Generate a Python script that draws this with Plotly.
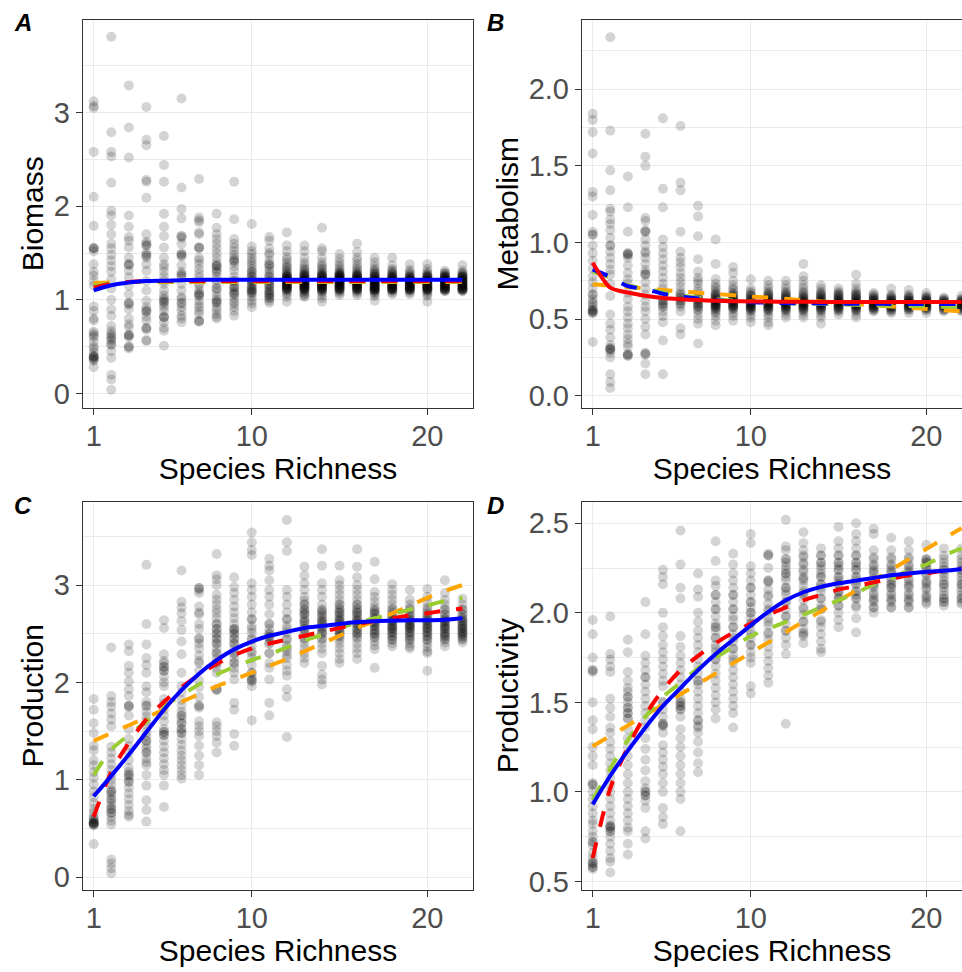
import plotly.graph_objects as go

# ---------------- data ----------------
RICHNESS = [1, 2, 3, 4, 5, 6, 7, 8, 9, 10, 11, 12, 13, 14, 15, 16, 17, 18, 19, 20, 21, 22]

BIOMASS = [
    [3.12, 3.07, 3.05, 2.58, 2.10, 1.79, 1.55, 1.55, 1.52, 1.38, 1.30, 1.26, 1.20, 1.15, 0.93, 0.88, 0.80, 0.78, 0.66, 0.64, 0.60, 0.55, 0.50, 0.48, 0.44, 0.40, 0.39, 0.38, 0.36, 0.35, 0.28],
    [3.81, 2.79, 2.58, 2.53, 2.25, 1.95, 1.90, 1.80, 1.70, 1.60, 1.55, 1.48, 1.42, 1.36, 1.30, 1.22, 1.12, 1.00, 0.90, 0.83, 0.72, 0.67, 0.64, 0.60, 0.56, 0.52, 0.45, 0.38, 0.20, 0.15, 0.04],
    [3.29, 2.84, 2.52, 1.90, 1.78, 1.67, 1.63, 1.56, 1.45, 1.38, 1.37, 1.31, 1.24, 1.15, 1.06, 0.97, 0.95, 0.90, 0.80, 0.74, 0.71, 0.63, 0.62, 0.60, 0.50, 0.48],
    [3.06, 2.71, 2.65, 2.28, 2.26, 2.09, 1.70, 1.62, 1.60, 1.58, 1.50, 1.47, 1.45, 1.38, 1.31, 1.20, 1.10, 0.99, 0.92, 0.89, 0.87, 0.82, 0.78, 0.70, 0.68, 0.57, 0.56],
    [2.75, 2.44, 2.26, 1.92, 1.78, 1.68, 1.56, 1.45, 1.38, 1.35, 1.30, 1.25, 1.20, 1.17, 1.10, 1.05, 1.02, 0.98, 0.95, 0.92, 0.88, 0.82, 0.81, 0.76, 0.70, 0.67, 0.51],
    [3.15, 2.20, 1.97, 1.87, 1.68, 1.66, 1.60, 1.50, 1.48, 1.46, 1.37, 1.30, 1.27, 1.25, 1.17, 1.10, 1.03, 1.01, 0.97, 0.92, 0.88, 0.83, 0.80, 0.76],
    [2.29, 1.88, 1.85, 1.83, 1.72, 1.70, 1.56, 1.55, 1.45, 1.42, 1.38, 1.33, 1.28, 1.24, 1.17, 1.10, 1.07, 1.06, 1.04, 0.99, 0.95, 0.92, 0.88, 0.85, 0.78, 0.77],
    [1.92, 1.77, 1.70, 1.65, 1.60, 1.55, 1.50, 1.45, 1.40, 1.37, 1.36, 1.33, 1.30, 1.25, 1.21, 1.17, 1.12, 1.08, 1.03, 1.00, 0.98, 0.96, 0.92, 0.89, 0.85, 0.82, 0.80],
    [2.26, 1.86, 1.65, 1.60, 1.56, 1.52, 1.48, 1.45, 1.42, 1.40, 1.36, 1.31, 1.25, 1.20, 1.15, 1.13, 1.10, 1.08, 1.06, 1.02, 0.98, 0.96, 0.92, 0.88, 0.83],
    [1.81, 1.57, 1.52, 1.49, 1.45, 1.42, 1.39, 1.36, 1.33, 1.30, 1.27, 1.25, 1.22, 1.20, 1.18, 1.15, 1.12, 1.10, 1.08, 1.06, 1.03, 0.99, 0.96, 0.92],
    [1.67, 1.63, 1.55, 1.50, 1.48, 1.42, 1.38, 1.36, 1.33, 1.30, 1.27, 1.24, 1.20, 1.17, 1.15, 1.13, 1.10, 1.08, 1.06, 1.04, 1.02, 0.99, 0.97],
    [1.72, 1.58, 1.52, 1.46, 1.43, 1.40, 1.37, 1.35, 1.34, 1.31, 1.30, 1.28, 1.27, 1.25, 1.25, 1.23, 1.22, 1.20, 1.20, 1.18, 1.17, 1.15, 1.15, 1.13, 1.12, 1.11, 1.10, 1.08, 1.06, 1.03, 0.98],
    [1.58, 1.52, 1.45, 1.40, 1.37, 1.34, 1.32, 1.31, 1.29, 1.28, 1.26, 1.25, 1.23, 1.22, 1.21, 1.20, 1.19, 1.18, 1.17, 1.16, 1.15, 1.14, 1.13, 1.12, 1.11, 1.09, 1.07, 1.06, 1.04, 1.03],
    [1.77, 1.55, 1.52, 1.45, 1.40, 1.37, 1.35, 1.33, 1.31, 1.29, 1.28, 1.26, 1.25, 1.24, 1.22, 1.21, 1.20, 1.19, 1.18, 1.17, 1.16, 1.15, 1.14, 1.13, 1.12, 1.11, 1.09, 1.08, 1.05, 1.02, 0.98],
    [1.49, 1.44, 1.40, 1.37, 1.34, 1.32, 1.30, 1.29, 1.28, 1.27, 1.26, 1.25, 1.24, 1.23, 1.22, 1.21, 1.20, 1.19, 1.18, 1.17, 1.16, 1.15, 1.14, 1.13, 1.12, 1.11, 1.09, 1.07, 1.05],
    [1.60, 1.51, 1.45, 1.42, 1.38, 1.35, 1.33, 1.31, 1.29, 1.28, 1.26, 1.25, 1.24, 1.23, 1.22, 1.21, 1.20, 1.19, 1.18, 1.17, 1.16, 1.15, 1.14, 1.13, 1.12, 1.11, 1.09, 1.07, 1.05],
    [1.45, 1.40, 1.36, 1.33, 1.31, 1.30, 1.28, 1.27, 1.25, 1.24, 1.22, 1.21, 1.20, 1.19, 1.18, 1.17, 1.16, 1.15, 1.14, 1.13, 1.12, 1.11, 1.10, 1.09, 1.08, 1.06, 1.04, 0.99],
    [1.45, 1.37, 1.33, 1.31, 1.30, 1.28, 1.27, 1.25, 1.24, 1.23, 1.22, 1.21, 1.20, 1.19, 1.18, 1.17, 1.16, 1.15, 1.14, 1.13, 1.12, 1.11, 1.10, 1.08, 1.06],
    [1.38, 1.32, 1.30, 1.28, 1.27, 1.25, 1.24, 1.23, 1.22, 1.21, 1.20, 1.19, 1.18, 1.17, 1.16, 1.15, 1.14, 1.13, 1.12, 1.11, 1.10, 1.08, 1.06],
    [1.38, 1.33, 1.30, 1.28, 1.26, 1.25, 1.24, 1.22, 1.21, 1.20, 1.19, 1.18, 1.17, 1.16, 1.15, 1.14, 1.13, 1.12, 1.11, 1.10, 1.08, 1.06, 1.04, 0.98],
    [1.31, 1.29, 1.28, 1.26, 1.25, 1.24, 1.23, 1.22, 1.21, 1.20, 1.19, 1.18, 1.17, 1.16, 1.15, 1.14, 1.13, 1.12, 1.11, 1.10, 1.09],
    [1.37, 1.31, 1.29, 1.28, 1.26, 1.25, 1.24, 1.23, 1.22, 1.21, 1.20, 1.19, 1.18, 1.17, 1.16, 1.15, 1.14, 1.13, 1.12, 1.11, 1.10, 1.09],
]
# extra replicates where the point clouds are densest (dark cores)
BIOMASS_CORE = [
    [0.40, 0.38, 0.62, 1.55], [0.62, 0.58, 0.52], [0.62, 0.50, 0.96, 1.38], [0.70, 0.88, 1.48, 1.58], [0.82, 0.98, 1.00],
    [1.68, 1.48, 1.27, 0.96], [1.56, 1.05, 1.15, 0.77], [1.36, 1.30, 1.12, 0.98], [1.42, 1.13, 1.06, 1.20],
    [1.30, 1.25, 1.20, 1.15, 1.12, 1.10, 1.08], [1.38, 1.20, 1.15, 1.10, 1.06, 1.02, 1.25],
    [1.26, 1.24, 1.22, 1.21, 1.19, 1.17, 1.16, 1.14, 1.12, 1.11, 1.25, 1.22, 1.20, 1.18, 1.15, 1.13],
    [1.27, 1.25, 1.23, 1.21, 1.20, 1.18, 1.17, 1.15, 1.14, 1.12, 1.11, 1.10, 1.26, 1.22, 1.19, 1.16, 1.13],
    [1.27, 1.25, 1.23, 1.21, 1.20, 1.18, 1.17, 1.15, 1.14, 1.12, 1.11, 1.10, 1.26, 1.22, 1.19, 1.16, 1.13],
    [1.27, 1.25, 1.23, 1.21, 1.20, 1.18, 1.17, 1.15, 1.14, 1.12, 1.11, 1.10, 1.26, 1.22, 1.19, 1.16, 1.13, 1.24],
    [1.27, 1.25, 1.23, 1.21, 1.20, 1.18, 1.17, 1.15, 1.14, 1.12, 1.11, 1.10, 1.26, 1.22, 1.19, 1.16, 1.13],
    [1.27, 1.25, 1.23, 1.21, 1.20, 1.18, 1.17, 1.15, 1.14, 1.12, 1.11, 1.10, 1.24, 1.20, 1.17, 1.14, 1.12],
    [1.27, 1.25, 1.23, 1.21, 1.20, 1.18, 1.17, 1.15, 1.14, 1.12, 1.11, 1.10, 1.24, 1.20, 1.17, 1.14, 1.12],
    [1.25, 1.23, 1.21, 1.20, 1.18, 1.17, 1.15, 1.14, 1.12, 1.11, 1.10, 1.22, 1.19, 1.16, 1.13, 1.12],
    [1.27, 1.25, 1.23, 1.21, 1.20, 1.18, 1.17, 1.15, 1.14, 1.12, 1.11, 1.10, 1.24, 1.20, 1.17, 1.14, 1.12],
    [1.27, 1.25, 1.23, 1.21, 1.20, 1.18, 1.17, 1.15, 1.14, 1.12, 1.11, 1.10, 1.24, 1.20, 1.17, 1.14, 1.12],
    [1.27, 1.25, 1.23, 1.21, 1.20, 1.18, 1.17, 1.15, 1.14, 1.12, 1.11, 1.10, 1.24, 1.20, 1.17, 1.14, 1.12],
]

METABOLISM = [
    [1.84, 1.80, 1.72, 1.58, 1.33, 1.30, 1.18, 1.07, 1.05, 0.98, 0.93, 0.88, 0.83, 0.78, 0.74, 0.70, 0.66, 0.63, 0.61, 0.58, 0.56, 0.55, 0.54, 0.35],
    [2.34, 1.73, 1.47, 1.34, 1.22, 1.20, 1.15, 1.12, 1.08, 1.03, 0.98, 0.94, 0.90, 0.86, 0.82, 0.79, 0.73, 0.65, 0.53, 0.47, 0.43, 0.38, 0.33, 0.31, 0.30, 0.28, 0.25, 0.14, 0.09, 0.05],
    [1.43, 1.23, 1.07, 0.93, 0.92, 0.90, 0.85, 0.80, 0.76, 0.73, 0.67, 0.63, 0.58, 0.55, 0.51, 0.47, 0.44, 0.40, 0.37, 0.34, 0.32, 0.27, 0.26],
    [1.71, 1.56, 1.50, 1.16, 1.14, 1.08, 1.07, 1.02, 0.98, 0.94, 0.90, 0.86, 0.82, 0.80, 0.79, 0.74, 0.70, 0.66, 0.62, 0.58, 0.55, 0.50, 0.45, 0.40, 0.28, 0.27, 0.21, 0.14],
    [1.81, 1.35, 1.23, 1.02, 0.97, 0.93, 0.89, 0.85, 0.81, 0.77, 0.73, 0.70, 0.67, 0.64, 0.62, 0.60, 0.58, 0.55, 0.52, 0.48, 0.36, 0.14],
    [1.76, 1.39, 1.34, 1.07, 0.94, 0.90, 0.87, 0.84, 0.80, 0.77, 0.74, 0.71, 0.68, 0.66, 0.64, 0.62, 0.60, 0.58, 0.55, 0.44, 0.40],
    [1.24, 1.17, 1.04, 0.89, 0.81, 0.77, 0.75, 0.73, 0.70, 0.68, 0.66, 0.64, 0.63, 0.62, 0.60, 0.59, 0.58, 0.56, 0.53, 0.50, 0.47, 0.34],
    [1.02, 0.86, 0.76, 0.73, 0.71, 0.70, 0.68, 0.67, 0.66, 0.65, 0.64, 0.63, 0.62, 0.61, 0.60, 0.59, 0.58, 0.57, 0.56, 0.55, 0.54, 0.52, 0.49, 0.46],
    [0.84, 0.80, 0.75, 0.72, 0.70, 0.69, 0.67, 0.66, 0.65, 0.64, 0.63, 0.62, 0.61, 0.60, 0.59, 0.58, 0.57, 0.56, 0.54, 0.52, 0.49],
    [0.76, 0.70, 0.68, 0.67, 0.66, 0.65, 0.64, 0.63, 0.62, 0.61, 0.60, 0.59, 0.58, 0.57, 0.56, 0.55, 0.53, 0.51, 0.48],
    [0.75, 0.72, 0.70, 0.68, 0.67, 0.66, 0.65, 0.64, 0.63, 0.62, 0.61, 0.60, 0.59, 0.58, 0.57, 0.56, 0.55, 0.53, 0.51, 0.48, 0.46],
    [0.75, 0.72, 0.70, 0.68, 0.67, 0.66, 0.65, 0.64, 0.63, 0.62, 0.61, 0.60, 0.59, 0.58, 0.57, 0.56, 0.55, 0.53, 0.51],
    [0.86, 0.78, 0.75, 0.72, 0.70, 0.68, 0.67, 0.65, 0.64, 0.63, 0.62, 0.61, 0.60, 0.59, 0.58, 0.57, 0.56, 0.55, 0.53, 0.51],
    [0.72, 0.70, 0.68, 0.67, 0.66, 0.65, 0.64, 0.63, 0.62, 0.61, 0.60, 0.59, 0.58, 0.57, 0.56, 0.55, 0.53, 0.51, 0.47],
    [0.70, 0.68, 0.67, 0.66, 0.65, 0.64, 0.63, 0.62, 0.61, 0.60, 0.59, 0.58, 0.57, 0.56, 0.55, 0.53],
    [0.79, 0.73, 0.70, 0.68, 0.67, 0.66, 0.65, 0.64, 0.63, 0.62, 0.61, 0.60, 0.59, 0.58, 0.57, 0.56, 0.55, 0.53, 0.51],
    [0.67, 0.66, 0.65, 0.64, 0.63, 0.62, 0.61, 0.60, 0.59, 0.58, 0.57, 0.56, 0.55],
    [0.70, 0.66, 0.65, 0.64, 0.63, 0.62, 0.61, 0.60, 0.59, 0.58, 0.57, 0.56, 0.55, 0.54],
    [0.69, 0.66, 0.65, 0.64, 0.63, 0.62, 0.61, 0.60, 0.59, 0.58, 0.57, 0.56, 0.54],
    [0.67, 0.65, 0.64, 0.63, 0.62, 0.61, 0.60, 0.59, 0.58, 0.57, 0.56, 0.54],
    [0.64, 0.63, 0.62, 0.61, 0.60, 0.59, 0.58, 0.57, 0.56, 0.55],
    [0.65, 0.63, 0.62, 0.61, 0.60, 0.59, 0.58, 0.57, 0.56, 0.55],
]
METABOLISM_CORE = [
    [0.55, 0.54, 0.56, 0.60, 0.66, 1.05], [0.30, 0.31, 0.98], [0.27, 0.26, 0.92, 0.93], [0.79, 1.07, 0.27, 0.93], [0.62, 0.60, 0.58],
    [0.66, 0.64, 0.62, 0.60], [0.62, 0.60, 0.58, 0.56, 0.64],
    [0.66, 0.64, 0.62, 0.60, 0.59, 0.58, 0.57, 0.63, 0.61, 0.59], [0.66, 0.64, 0.62, 0.60, 0.59, 0.58, 0.57, 0.63, 0.61, 0.59],
    [0.65, 0.63, 0.61, 0.60, 0.59, 0.58, 0.57, 0.56, 0.62, 0.60, 0.58], [0.66, 0.64, 0.62, 0.61, 0.60, 0.59, 0.58, 0.57, 0.56, 0.63, 0.61, 0.59],
    [0.66, 0.64, 0.62, 0.61, 0.60, 0.59, 0.58, 0.57, 0.56, 0.63, 0.61, 0.59], [0.66, 0.64, 0.62, 0.61, 0.60, 0.59, 0.58, 0.57, 0.56, 0.63, 0.61, 0.59],
    [0.66, 0.64, 0.62, 0.61, 0.60, 0.59, 0.58, 0.57, 0.56, 0.63, 0.61, 0.59], [0.66, 0.64, 0.62, 0.61, 0.60, 0.59, 0.58, 0.57, 0.56, 0.63, 0.61, 0.59],
    [0.66, 0.64, 0.62, 0.61, 0.60, 0.59, 0.58, 0.57, 0.56, 0.63, 0.61, 0.59], [0.64, 0.63, 0.62, 0.61, 0.60, 0.59, 0.58, 0.57, 0.56, 0.62, 0.60, 0.58],
    [0.64, 0.63, 0.62, 0.61, 0.60, 0.59, 0.58, 0.57, 0.56, 0.62, 0.60, 0.58], [0.64, 0.63, 0.62, 0.61, 0.60, 0.59, 0.58, 0.57, 0.56, 0.62, 0.60, 0.58],
    [0.64, 0.63, 0.62, 0.61, 0.60, 0.59, 0.58, 0.57, 0.56, 0.62, 0.60, 0.58], [0.63, 0.62, 0.61, 0.60, 0.59, 0.58, 0.57, 0.56, 0.61, 0.59],
    [0.63, 0.62, 0.61, 0.60, 0.59, 0.58, 0.57, 0.56, 0.61, 0.59],
]

PRODUCTION = [
    [1.83, 1.72, 1.58, 1.48, 1.35, 1.30, 1.20, 1.15, 1.08, 1.02, 0.95, 0.88, 0.82, 0.76, 0.70, 0.66, 0.62, 0.59, 0.57, 0.56, 0.55, 0.54, 0.53, 0.34],
    [2.36, 1.86, 1.80, 1.75, 1.68, 1.62, 1.55, 1.34, 1.28, 1.22, 1.16, 1.10, 1.05, 1.00, 0.95, 0.90, 0.87, 0.84, 0.80, 0.76, 0.73, 0.70, 0.66, 0.62, 0.58, 0.54, 0.18, 0.14, 0.09, 0.04],
    [2.39, 2.32, 2.17, 2.10, 2.01, 1.93, 1.86, 1.76, 1.75, 1.66, 1.52, 1.42, 1.35, 1.28, 1.20, 1.12, 1.08, 1.05, 1.02, 0.98, 0.92, 0.86, 0.80, 0.74, 0.68, 0.64, 0.62],
    [3.21, 2.60, 2.39, 2.25, 2.18, 2.10, 1.96, 1.90, 1.80, 1.76, 1.70, 1.65, 1.60, 1.56, 1.49, 1.45, 1.40, 1.36, 1.32, 1.28, 1.22, 1.18, 1.15, 1.05, 0.94, 0.79, 0.69, 0.57],
    [2.64, 2.56, 2.29, 2.22, 2.20, 2.16, 2.12, 2.06, 2.00, 1.96, 1.83, 1.78, 1.72, 1.66, 1.60, 1.52, 1.49, 1.46, 1.40, 1.34, 1.28, 1.22, 1.16, 1.10, 1.05, 0.94, 0.72],
    [3.15, 2.83, 2.77, 2.71, 2.63, 2.54, 2.42, 2.29, 2.10, 1.96, 1.90, 1.82, 1.76, 1.70, 1.66, 1.62, 1.58, 1.52, 1.48, 1.42, 1.36, 1.30, 1.25, 1.20, 1.15, 1.10, 1.05, 1.01],
    [2.97, 2.95, 2.92, 2.78, 2.72, 2.60, 2.55, 2.45, 2.40, 2.35, 2.28, 2.20, 2.12, 2.02, 1.95, 1.85, 1.76, 1.74, 1.60, 1.55, 1.50, 1.45, 1.35, 1.25, 1.15, 1.05],
    [3.32, 3.10, 3.06, 3.00, 2.90, 2.85, 2.80, 2.75, 2.71, 2.66, 2.60, 2.55, 2.50, 2.45, 2.40, 2.35, 2.30, 2.25, 2.20, 2.15, 2.10, 1.93, 1.92, 1.59, 1.55, 1.50, 1.45, 1.38, 1.28],
    [3.08, 2.98, 2.92, 2.85, 2.78, 2.72, 2.66, 2.60, 2.55, 2.54, 2.50, 2.45, 2.40, 2.35, 2.30, 2.25, 2.20, 2.15, 2.10, 2.03, 1.79, 1.72, 1.47, 1.35],
    [3.54, 3.44, 3.36, 3.31, 3.02, 2.95, 2.88, 2.80, 2.72, 2.65, 2.58, 2.51, 2.44, 2.38, 2.32, 2.25, 2.18, 2.10, 2.05, 2.03, 2.01, 1.96, 1.61],
    [3.27, 3.20, 3.15, 3.05, 2.95, 2.88, 2.80, 2.70, 2.60, 2.55, 2.50, 2.47, 2.45, 2.40, 2.30, 2.20, 2.15, 2.03, 1.79, 1.66],
    [3.67, 3.44, 3.35, 2.95, 2.88, 2.80, 2.72, 2.65, 2.58, 2.51, 2.44, 2.38, 2.32, 2.25, 2.18, 2.12, 2.07, 1.93, 1.85, 1.44],
    [3.19, 3.10, 3.02, 2.95, 2.88, 2.84, 2.80, 2.75, 2.70, 2.66, 2.61, 2.55, 2.50, 2.45, 2.40, 2.35, 2.30, 2.25, 2.20],
    [3.37, 3.20, 3.02, 2.95, 2.88, 2.80, 2.74, 2.68, 2.62, 2.56, 2.50, 2.45, 2.40, 2.35, 2.30, 2.17, 2.08, 2.03, 1.98],
    [3.20, 3.05, 3.00, 2.95, 2.90, 2.85, 2.80, 2.76, 2.72, 2.68, 2.64, 2.60, 2.56, 2.52, 2.48, 2.44, 2.40, 2.35, 2.30, 2.24, 2.20],
    [3.37, 3.19, 3.08, 3.00, 2.95, 2.90, 2.85, 2.80, 2.76, 2.72, 2.68, 2.64, 2.60, 2.55, 2.50, 2.45, 2.40, 2.35, 2.30, 2.24],
    [3.24, 3.06, 2.93, 2.88, 2.83, 2.78, 2.74, 2.70, 2.66, 2.62, 2.58, 2.54, 2.50, 2.46, 2.42, 2.38, 2.34, 2.15],
    [3.01, 2.95, 2.90, 2.85, 2.80, 2.76, 2.72, 2.68, 2.65, 2.62, 2.58, 2.55, 2.52, 2.48, 2.44, 2.40, 2.37],
    [2.95, 2.85, 2.80, 2.76, 2.72, 2.68, 2.64, 2.60, 2.58, 2.56, 2.52, 2.48, 2.44, 2.40, 2.37, 2.35],
    [2.96, 2.88, 2.82, 2.77, 2.72, 2.68, 2.64, 2.60, 2.56, 2.52, 2.48, 2.44, 2.40, 2.36, 2.32, 2.30, 2.12],
    [3.05, 2.92, 2.85, 2.80, 2.75, 2.70, 2.65, 2.62, 2.58, 2.55, 2.50, 2.48, 2.45, 2.41, 2.37],
    [2.86, 2.80, 2.75, 2.70, 2.66, 2.62, 2.58, 2.55, 2.52, 2.50, 2.48, 2.45, 2.41],
]
PRODUCTION_CORE = [
    [0.55, 0.54, 0.56, 0.60], [0.66, 0.70, 0.80, 0.88], [0.98, 1.05, 1.76], [1.28, 1.40, 1.76], [2.16, 2.12, 1.49, 1.46],
    [1.66, 1.58, 1.52, 1.48], [2.97, 2.70, 2.45, 2.22, 1.76],
    [2.60, 2.55, 2.50, 2.45, 2.40, 2.30, 2.20, 1.93], [2.55, 2.50, 2.45, 2.40, 2.30, 2.20],
    [2.65, 2.55, 2.45, 2.30, 2.10, 2.02], [2.60, 2.50, 2.47, 2.40, 2.30],
    [2.65, 2.55, 2.45, 2.35, 2.28], [2.80, 2.75, 2.70, 2.62, 2.55, 2.50, 2.45, 2.72, 2.64, 2.58],
    [2.75, 2.70, 2.66, 2.62, 2.58, 2.55, 2.50, 2.45, 2.72, 2.64, 2.60, 2.52],
    [2.80, 2.75, 2.70, 2.66, 2.62, 2.58, 2.55, 2.50, 2.47, 2.72, 2.64, 2.60, 2.52],
    [2.80, 2.75, 2.70, 2.66, 2.62, 2.58, 2.55, 2.50, 2.47, 2.72, 2.64, 2.60, 2.52],
    [2.75, 2.70, 2.66, 2.62, 2.58, 2.55, 2.50, 2.47, 2.72, 2.64, 2.60, 2.52],
    [2.75, 2.70, 2.66, 2.62, 2.58, 2.55, 2.50, 2.47, 2.44, 2.64, 2.60, 2.56, 2.52],
    [2.75, 2.70, 2.66, 2.62, 2.58, 2.55, 2.50, 2.47, 2.44, 2.64, 2.60, 2.56, 2.52],
    [2.75, 2.70, 2.66, 2.62, 2.58, 2.55, 2.50, 2.47, 2.44, 2.64, 2.60, 2.56, 2.52],
    [2.75, 2.70, 2.66, 2.62, 2.58, 2.55, 2.50, 2.47, 2.44, 2.64, 2.60, 2.56, 2.52],
    [2.75, 2.70, 2.66, 2.62, 2.58, 2.55, 2.50, 2.47, 2.44, 2.64, 2.60, 2.56, 2.52],
]

PRODUCTIVITY = [
    [1.96, 1.88, 1.75, 1.68, 1.67, 1.50, 1.40, 1.35, 1.25, 1.20, 1.15, 1.05, 1.04, 1.00, 0.96, 0.92, 0.88, 0.84, 0.82, 0.78, 0.75, 0.72, 0.70, 0.66, 0.63, 0.61, 0.60, 0.58, 0.57],
    [1.98, 1.77, 1.74, 1.70, 1.67, 1.52, 1.47, 1.42, 1.36, 1.33, 1.28, 1.24, 1.20, 1.16, 1.12, 1.08, 1.04, 1.00, 0.96, 0.92, 0.88, 0.84, 0.81, 0.80, 0.78, 0.75, 0.71, 0.67, 0.63, 0.61, 0.55],
    [1.85, 1.78, 1.67, 1.62, 1.58, 1.56, 1.53, 1.50, 1.47, 1.44, 1.41, 1.35, 1.30, 1.25, 1.20, 1.15, 1.10, 1.05, 1.00, 0.96, 0.92, 0.88, 0.84, 0.80, 0.78, 0.71, 0.65],
    [2.06, 1.88, 1.76, 1.72, 1.68, 1.64, 1.60, 1.56, 1.52, 1.48, 1.44, 1.40, 1.36, 1.30, 1.24, 1.18, 1.12, 1.06, 1.02, 1.00, 0.98, 0.95, 0.91, 0.78, 0.74],
    [2.24, 2.20, 2.16, 2.00, 1.92, 1.87, 1.82, 1.78, 1.74, 1.70, 1.66, 1.62, 1.59, 1.50, 1.46, 1.42, 1.38, 1.37, 1.33, 1.26, 1.22, 1.18, 1.14, 1.10, 1.05, 1.00, 0.91, 0.86, 0.82],
    [2.46, 2.27, 2.14, 2.08, 1.87, 1.81, 1.76, 1.72, 1.68, 1.64, 1.60, 1.56, 1.52, 1.50, 1.48, 1.46, 1.42, 1.35, 1.30, 1.25, 1.20, 1.15, 1.10, 1.05, 1.00, 0.96, 0.78],
    [2.22, 2.13, 2.09, 2.00, 1.95, 1.90, 1.86, 1.82, 1.78, 1.74, 1.70, 1.66, 1.62, 1.60, 1.56, 1.52, 1.48, 1.44, 1.40, 1.37, 1.33, 1.28, 1.22, 1.16, 1.11],
    [2.40, 2.29, 2.18, 2.15, 2.10, 2.06, 2.02, 1.98, 1.94, 1.92, 1.90, 1.86, 1.82, 1.78, 1.74, 1.70, 1.66, 1.62, 1.58, 1.54, 1.50, 1.46, 1.41],
    [2.33, 2.27, 2.22, 2.18, 2.14, 2.10, 2.06, 2.02, 1.98, 1.96, 1.92, 1.88, 1.84, 1.80, 1.76, 1.72, 1.68, 1.64, 1.60, 1.56, 1.52, 1.48, 1.44, 1.36],
    [2.44, 2.39, 2.26, 2.22, 2.18, 2.14, 2.10, 2.06, 2.03, 2.00, 1.97, 1.94, 1.90, 1.86, 1.82, 1.78, 1.75, 1.72, 1.59, 1.55],
    [2.33, 2.32, 2.25, 2.18, 2.17, 2.13, 2.09, 2.05, 2.01, 1.97, 1.93, 1.89, 1.85, 1.81, 1.77, 1.73, 1.69, 1.65, 1.61],
    [2.52, 2.37, 2.35, 2.30, 2.26, 2.24, 2.22, 2.18, 2.14, 2.10, 2.06, 2.02, 1.98, 1.94, 1.90, 1.86, 1.82, 1.77, 1.38],
    [2.45, 2.39, 2.35, 2.31, 2.27, 2.23, 2.19, 2.15, 2.11, 2.07, 2.03, 1.99, 1.95, 1.91, 1.89, 1.87, 1.83],
    [2.36, 2.32, 2.28, 2.24, 2.20, 2.16, 2.12, 2.08, 2.04, 2.02, 1.96, 1.92, 1.88, 1.84, 1.80, 1.78],
    [2.48, 2.40, 2.36, 2.32, 2.28, 2.24, 2.20, 2.16, 2.12, 2.08, 2.04, 2.00, 1.96, 1.92],
    [2.50, 2.44, 2.40, 2.36, 2.32, 2.28, 2.24, 2.20, 2.16, 2.12, 2.08, 2.03, 1.97, 1.89],
    [2.47, 2.44, 2.35, 2.31, 2.27, 2.23, 2.19, 2.15, 2.11, 2.07, 2.03, 2.00],
    [2.42, 2.35, 2.31, 2.27, 2.23, 2.19, 2.16, 2.14, 2.11, 2.07, 2.03],
    [2.40, 2.35, 2.31, 2.27, 2.23, 2.19, 2.15, 2.11, 2.07, 2.03],
    [2.38, 2.30, 2.29, 2.28, 2.25, 2.21, 2.17, 2.13, 2.09, 2.05],
    [2.36, 2.32, 2.28, 2.24, 2.20, 2.16, 2.12, 2.08, 2.06, 2.04],
    [2.36, 2.32, 2.28, 2.24, 2.20, 2.16, 2.12, 2.08, 2.05],
]
PRODUCTIVITY_CORE = [
    [1.68, 1.04, 0.60, 0.58, 0.72], [0.80, 0.78, 0.81], [1.47, 1.44, 1.41, 1.53], [1.00, 0.98, 1.64], [1.38, 1.37, 1.50],
    [1.50, 1.48, 1.46], [1.62, 1.40, 1.36],
    [2.10, 2.02, 1.92, 1.86, 1.80, 1.74], [2.10, 2.02, 1.92, 1.86, 1.80, 1.74],
    [2.14, 2.06, 2.00, 1.94, 1.88, 1.82], [2.32, 2.18, 2.10, 2.02, 1.95, 1.88],
    [2.30, 2.22, 2.14, 2.06, 1.98, 1.90, 2.28, 2.20, 2.12],
    [2.32, 2.24, 2.18, 2.10, 2.02, 1.95, 1.88, 2.28, 2.20, 2.12],
    [2.32, 2.26, 2.20, 2.14, 2.08, 2.02, 1.95, 2.28, 2.22, 2.16],
    [2.32, 2.28, 2.24, 2.20, 2.16, 2.12, 2.08, 2.04, 2.26, 2.18, 2.10],
    [2.32, 2.28, 2.24, 2.20, 2.16, 2.12, 2.08, 2.04, 2.26, 2.18, 2.10],
    [2.30, 2.26, 2.22, 2.18, 2.14, 2.10, 2.06, 2.03, 2.24, 2.16, 2.08],
    [2.30, 2.26, 2.22, 2.18, 2.14, 2.10, 2.06, 2.03, 2.24, 2.16, 2.08],
    [2.30, 2.26, 2.22, 2.18, 2.14, 2.10, 2.06, 2.03, 2.24, 2.16, 2.08],
    [2.30, 2.28, 2.26, 2.22, 2.18, 2.14, 2.10, 2.06, 2.24, 2.16, 2.08],
    [2.30, 2.26, 2.22, 2.18, 2.14, 2.10, 2.06, 2.24, 2.16, 2.08],
    [2.30, 2.26, 2.22, 2.18, 2.14, 2.10, 2.06, 2.24, 2.16, 2.08],
]

# fitted curves, one value per richness level
BIOMASS_RED = [1.13, 1.17, 1.19, 1.20, 1.20, 1.20, 1.20, 1.20, 1.20, 1.20, 1.20, 1.20, 1.20, 1.20, 1.20, 1.20, 1.20, 1.20, 1.20, 1.20, 1.20, 1.20]
BIOMASS_ORANGE = [1.18, 1.185, 1.19, 1.19, 1.19, 1.19, 1.19, 1.19, 1.19, 1.19, 1.19, 1.19, 1.19, 1.19, 1.19, 1.19, 1.19, 1.19, 1.19, 1.19, 1.19, 1.19]
BIOMASS_GREEN = [1.15, 1.175, 1.19, 1.195, 1.195, 1.195, 1.195, 1.195, 1.195, 1.195, 1.195, 1.195, 1.195, 1.195, 1.195, 1.195, 1.195, 1.195, 1.195, 1.195, 1.195, 1.195]
BIOMASS_BLUE = [1.10, 1.155, 1.185, 1.20, 1.205, 1.21, 1.215, 1.215, 1.215, 1.215, 1.215, 1.215, 1.215, 1.215, 1.215, 1.215, 1.215, 1.215, 1.215, 1.215, 1.215, 1.215]

METABOLISM_RED = [0.867, 0.705, 0.673, 0.652, 0.638, 0.630, 0.624, 0.620, 0.617, 0.615, 0.614, 0.613, 0.613, 0.612, 0.612, 0.612, 0.612, 0.612, 0.612, 0.612, 0.612, 0.612]
METABOLISM_ORANGE = [0.727, 0.718, 0.710, 0.700, 0.690, 0.680, 0.672, 0.664, 0.655, 0.647, 0.640, 0.632, 0.623, 0.615, 0.607, 0.598, 0.590, 0.582, 0.574, 0.566, 0.558, 0.550]
METABOLISM_GREEN = [0.810, 0.770, 0.720, 0.700, 0.675, 0.655, 0.640, 0.630, 0.620, 0.615, 0.610, 0.605, 0.600, 0.600, 0.595, 0.593, 0.590, 0.588, 0.585, 0.583, 0.580, 0.578]
METABOLISM_BLUE = [0.824, 0.775, 0.715, 0.695, 0.665, 0.647, 0.634, 0.624, 0.615, 0.610, 0.607, 0.604, 0.603, 0.602, 0.601, 0.600, 0.600, 0.599, 0.599, 0.598, 0.598, 0.598]

PRODUCTION_RED = [0.62, 1.08, 1.38, 1.62, 1.80, 1.95, 2.08, 2.19, 2.28, 2.35, 2.40, 2.44, 2.48, 2.52, 2.56, 2.60, 2.63, 2.66, 2.69, 2.71, 2.74, 2.76]
PRODUCTION_ORANGE = [1.40, 1.48, 1.56, 1.64, 1.72, 1.80, 1.88, 1.96, 2.03, 2.10, 2.17, 2.24, 2.32, 2.40, 2.48, 2.56, 2.63, 2.71, 2.79, 2.87, 2.94, 3.00]
PRODUCTION_GREEN = [1.05, 1.31, 1.46, 1.60, 1.75, 1.87, 1.98, 2.08, 2.16, 2.23, 2.29, 2.36, 2.43, 2.49, 2.56, 2.61, 2.66, 2.70, 2.75, 2.79, 2.84, 2.87]
PRODUCTION_BLUE = [0.83, 1.04, 1.26, 1.49, 1.72, 1.92, 2.09, 2.23, 2.34, 2.42, 2.48, 2.52, 2.56, 2.58, 2.60, 2.62, 2.63, 2.635, 2.64, 2.64, 2.645, 2.66]

PRODUCTIVITY_RED = [0.63, 1.02, 1.25, 1.43, 1.57, 1.68, 1.76, 1.83, 1.89, 1.94, 1.99, 2.03, 2.07, 2.10, 2.13, 2.15, 2.17, 2.19, 2.21, 2.22, 2.235, 2.245]
PRODUCTIVITY_ORANGE = [1.255, 1.313, 1.371, 1.429, 1.487, 1.545, 1.603, 1.661, 1.719, 1.777, 1.835, 1.893, 1.951, 2.009, 2.067, 2.125, 2.183, 2.241, 2.299, 2.357, 2.415, 2.473]
PRODUCTIVITY_GREEN = [0.955, 1.13, 1.29, 1.42, 1.53, 1.61, 1.69, 1.75, 1.81, 1.87, 1.91, 1.95, 1.99, 2.03, 2.07, 2.11, 2.16, 2.19, 2.24, 2.27, 2.32, 2.36]
PRODUCTIVITY_BLUE = [0.93, 1.09, 1.23, 1.36, 1.48, 1.58, 1.68, 1.77, 1.85, 1.93, 2.005, 2.07, 2.115, 2.145, 2.165, 2.18, 2.195, 2.21, 2.22, 2.23, 2.235, 2.245]

X_TICKS = [1, 10, 20]
Y_LABELS = ["Biomass", "Metabolism", "Production", "Productivity"]
PANEL_LETTERS = ["A", "B", "C", "D"]

# ---------------- styling ----------------
W, H = 962, 972
FONT = "Liberation Sans, Arial, sans-serif"
PT_COLOR = "rgba(0,0,0,0.17)"
RED, ORANGE, GREEN, BLUE = "#FF0000", "#FFA500", "#9ACD32", "#0000FF"
DASH = "16px,16px"
LW = 4

fig = go.Figure()

panels = [
    dict(data=BIOMASS, core=BIOMASS_CORE, red=BIOMASS_RED, orange=BIOMASS_ORANGE, green=BIOMASS_GREEN, blue=BIOMASS_BLUE,
         px=(83, 473), py=(20, 411), xr=[0.39, 22.6], yr=[-0.151, 3.99],
         yt=[0, 1, 2, 3], ytt=["0", "1", "2", "3"], ym=[0.5, 1.5, 2.5, 3.5], red_dash=True, right=True),
    dict(data=METABOLISM, core=METABOLISM_CORE, red=METABOLISM_RED, orange=METABOLISM_ORANGE, green=METABOLISM_GREEN, blue=METABOLISM_BLUE,
         px=(582, 962), py=(20, 411), xr=[0.39, 22.03], yr=[-0.078, 2.453],
         yt=[0, 0.5, 1, 1.5, 2], ytt=["0.0", "0.5", "1.0", "1.5", "2.0"], ym=[0.25, 0.75, 1.25, 1.75, 2.25], red_dash=False, right=False),
    dict(data=PRODUCTION, core=PRODUCTION_CORE, red=PRODUCTION_RED, orange=PRODUCTION_ORANGE, green=PRODUCTION_GREEN, blue=PRODUCTION_BLUE,
         px=(83, 473), py=(506, 897), xr=[0.39, 22.6], yr=[-0.129, 3.856],
         yt=[0, 1, 2, 3], ytt=["0", "1", "2", "3"], ym=[0.5, 1.5, 2.5, 3.5], red_dash=True, right=True),
    dict(data=PRODUCTIVITY, core=PRODUCTIVITY_CORE, red=PRODUCTIVITY_RED, orange=PRODUCTIVITY_ORANGE, green=PRODUCTIVITY_GREEN, blue=PRODUCTIVITY_BLUE,
         px=(582, 962), py=(506, 897), xr=[0.39, 22.03], yr=[0.454, 2.62],
         yt=[0.5, 1, 1.5, 2, 2.5], ytt=["0.5", "1.0", "1.5", "2.0", "2.5"], ym=[0.75, 1.25, 1.75, 2.25], red_dash=True, right=False),
]

layout_axes = {}
for i, p in enumerate(panels):
    n = "" if i == 0 else str(i + 1)
    xa, ya = "x" + n, "y" + n
    xs, ys = [], []
    for r, vals, extra in zip(RICHNESS, p["data"], p["core"]):
        xs += [r] * (len(vals) + len(extra))
        ys += vals + extra
    fig.add_trace(go.Scatter(x=xs, y=ys, mode="markers", xaxis=xa, yaxis=ya,
                             marker=dict(size=10, color=PT_COLOR, line=dict(width=0)),
                             showlegend=False, hoverinfo="skip"))
    if p["red_dash"]:
        order = [("orange", ORANGE, DASH), ("green", GREEN, DASH), ("red", RED, DASH), ("blue", BLUE, "solid")]
    else:
        order = [("orange", ORANGE, DASH), ("green", GREEN, DASH), ("blue", BLUE, DASH), ("red", RED, "solid")]
    for key, col, dash in order:
        fig.add_trace(go.Scatter(x=RICHNESS, y=p[key], mode="lines", xaxis=xa, yaxis=ya,
                                 line=dict(color=col, width=LW, dash=dash, shape="spline", smoothing=0.8),
                                 showlegend=False, hoverinfo="skip"))

    common = dict(ticks="outside", ticklen=6, tickwidth=1.2, tickcolor="#333333",
                  showline=True, linecolor="#333333", linewidth=1.4,
                  showgrid=True, gridcolor="#EBEBEB", gridwidth=1.2, zeroline=False,
                  tickfont=dict(family=FONT, size=29, color="#4D4D4D"), fixedrange=True)
    layout_axes["xaxis" + n] = dict(
        domain=[p["px"][0] / W, p["px"][1] / W], range=p["xr"], anchor=ya,
        tickmode="array", tickvals=X_TICKS, ticktext=[str(t) for t in X_TICKS],
        mirror=True, ticklabelstandoff=-4,
        title=dict(text="Species Richness", font=dict(family=FONT, size=30, color="black"), standoff=2),
        **common)
    layout_axes["yaxis" + n] = dict(
        domain=[1 - p["py"][1] / H, 1 - p["py"][0] / H], range=p["yr"], anchor=xa,
        tickmode="array", tickvals=p["yt"], ticktext=p["ytt"],
        minor=dict(tickmode="array", tickvals=p["ym"], showgrid=True, gridcolor="#EBEBEB", gridwidth=0.8),
        mirror=p["right"],
        title=dict(text=Y_LABELS[i], font=dict(family=FONT, size=30, color="black"), standoff=1),
        **common)

annotations = []
for i, (lx, ly) in enumerate([(12, 7), (485, 7), (12, 494), (485, 494)]):
    annotations.append(dict(text="<b><i>%s</i></b>" % PANEL_LETTERS[i], xref="paper", yref="paper",
                            x=lx / W, y=1 - ly / H, xanchor="left", yanchor="top", showarrow=False,
                            font=dict(family=FONT, size=24, color="black")))

fig.update_layout(width=W, height=H, margin=dict(l=0, r=0, t=0, b=0), autosize=False,
                  paper_bgcolor="white", plot_bgcolor="white", showlegend=False,
                  annotations=annotations, **layout_axes)

fig.write_html("out.html", config={"displayModeBar": False})
